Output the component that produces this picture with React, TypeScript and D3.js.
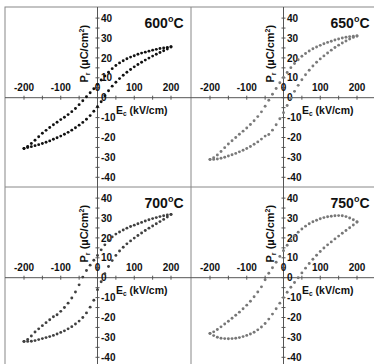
import React from 'react';
import * as d3 from 'd3';

// Electric field sample points (kV/cm)
const fieldValues = [
  -200, -190, -180, -170, -160, -150, -140, -130, -120, -110, -100, -90, -80, -70, -60, -50, -40, -30, -20, -10,
  0, 10, 20, 30, 40, 50, 60, 70, 80, 90, 100, 110, 120, 130, 140, 150, 160, 170, 180, 190, 200,
];

const xTickLabels = [-200, -100, 0, 100, 200];
const xMinorTicks = [-200, -150, -100, -50, 0, 50, 100, 150, 200];
const yTickLabels = [40, 30, 20, 10, 0, -10, -20, -30, -40];
const yMinorTicks = [40, 35, 30, 25, 20, 15, 10, 5, 0, -5, -10, -15, -20, -25, -30, -35, -40];
const temperatures = ['600', '650', '700', '750'];

// 600 °C : descending (upper) and ascending (lower) branches
const p600Upper = [
  -25.5, -24.5, -23.0, -21.4, -19.6, -17.9, -16.4, -15.0, -13.6, -12.3, -11.0, -9.8, -8.5, -7.0, -5.4, -3.5, -1.5, 0.5, 2.5, 4.5,
  6.7, 8.9, 10.9, 12.8, 14.6, 16.2, 17.5, 18.6, 19.6, 20.4, 21.1, 21.8, 22.4, 22.9, 23.4, 23.9, 24.3, 24.7, 25.0, 25.3, 25.6,
];
const p600Lower = [
  -25.5, -25.0, -24.6, -24.1, -23.6, -23.0, -22.4, -21.7, -20.9, -20.1, -19.3, -18.4, -17.4, -16.3, -15.1, -13.8, -12.4, -10.8, -9.0, -6.8,
  -4.5, -2.0, 1.0, 3.5, 5.8, 7.8, 9.6, 11.3, 12.8, 14.2, 15.5, 16.7, 17.8, 18.9, 19.9, 20.9, 21.8, 22.7, 23.6, 24.5, 25.5,
];

// 650 °C
const p650Upper = [
  -31.0, -30.2, -28.8, -27.0, -25.1, -23.3, -21.6, -20.0, -18.4, -16.8, -15.2, -13.5, -11.6, -9.5, -7.1, -4.3, -1.3, 1.7, 4.6, 7.5,
  10.2, 12.7, 15.1, 17.2, 19.1, 20.8, 22.2, 23.5, 24.6, 25.5, 26.3, 27.1, 27.8, 28.4, 29.0, 29.5, 30.0, 30.4, 30.7, 30.9, 31.0,
];
const p650Lower = [
  -31.0, -31.0, -30.8, -30.4, -29.9, -29.3, -28.7, -28.0, -27.2, -26.4, -25.5, -24.5, -23.4, -22.2, -20.8, -19.3, -18.5, -16.3, -13.6, -10.6,
  -7.5, -3.9, -0.2, 3.2, 6.2, 9.0, 11.5, 13.8, 15.9, 17.8, 19.5, 21.0, 22.5, 23.9, 25.2, 26.4, 27.5, 28.5, 29.5, 30.3, 31.0,
];

// 700 °C
const p700Upper = [
  -32.0, -31.0, -29.3, -27.3, -25.7, -24.1, -22.6, -21.1, -19.6, -18.6, -16.9, -15.0, -12.8, -10.2, -7.2, -3.6, 0.3, 3.6, 6.3, 8.8,
  11.2, 14.0, 16.5, 18.8, 20.5, 21.9, 23.0, 24.0, 24.9, 25.7, 26.4, 27.1, 27.8, 28.5, 29.1, 29.7, 30.2, 30.7, 31.1, 31.5, 31.8,
];
const p700Lower = [
  -32.0, -32.0, -31.9, -31.6, -31.1, -30.6, -30.1, -29.6, -29.0, -28.3, -27.5, -26.7, -25.7, -24.6, -23.3, -21.8, -20.0, -17.7, -14.8, -11.3,
  -6.0, -2.0, 2.0, 5.6, 8.6, 11.2, 13.4, 15.3, 17.0, 18.5, 19.9, 21.2, 22.5, 23.7, 24.9, 26.0, 27.1, 28.2, 29.3, 30.5, 31.8,
];

// 750 °C
const p750Upper = [
  -28.0, -27.2, -26.0, -24.7, -23.3, -21.9, -20.4, -18.9, -17.3, -15.6, -13.8, -11.8, -9.6, -7.2, -4.6, -1.0, 2.2, 5.0, 7.8, 10.7,
  13.6, 16.3, 18.8, 21.0, 22.9, 24.5, 25.9, 27.1, 28.1, 28.9, 29.6, 30.2, 30.6, 30.9, 31.1, 31.2, 31.1, 30.7, 30.0, 29.1, 28.0,
];
const p750Lower = [
  -28.0, -29.1, -29.9, -30.4, -30.6, -30.7, -30.6, -30.4, -30.1, -29.6, -29.0, -28.3, -27.4, -26.2, -24.8, -23.0, -20.8, -18.3, -15.6, -12.8,
  -10.0, -7.3, -4.8, -2.4, 0.0, 2.4, 4.8, 7.1, 9.3, 11.3, 13.2, 14.9, 16.5, 18.0, 19.5, 20.9, 22.3, 23.7, 25.1, 26.5, 28.0,
];

const FONT = "'Liberation Sans', Arial, Helvetica, sans-serif";

export default function App() {
  const W = 374;
  const H = 364;
  const left0 = 5;
  const top0 = 7;
  const panelW = 186;
  const panelH = 180;
  const axisColor = '#555';
  const frameColor = '#888';
  const textColor = '#111';

  const panels = [
    { t: temperatures[0], up: p600Upper, lo: p600Lower, color: '#111', col: 0, row: 0 },
    { t: temperatures[1], up: p650Upper, lo: p650Lower, color: '#7a7a7a', col: 1, row: 0 },
    { t: temperatures[2], up: p700Upper, lo: p700Lower, color: '#404040', col: 0, row: 1 },
    { t: temperatures[3], up: p750Upper, lo: p750Lower, color: '#777', col: 1, row: 1 },
  ];

  return (
    <svg
      width={W}
      height={H}
      viewBox={`0 0 ${W} ${H}`}
      style={{ position: 'absolute', left: 0, top: 0, background: '#fff' }}
    >
      <rect x={0} y={0} width={W} height={H} fill="#fff" />
      {/* outer frame and dividers */}
      <rect x={left0} y={top0} width={panelW * 2} height={panelH * 2} fill="none" stroke={frameColor} strokeWidth={1} />
      <line x1={left0 + panelW} x2={left0 + panelW} y1={top0} y2={top0 + panelH * 2} stroke={frameColor} strokeWidth={1} />
      <line x1={left0} x2={left0 + panelW * 2} y1={top0 + panelH} y2={top0 + panelH} stroke={frameColor} strokeWidth={1} />
      {panels.map((p, i) => {
        const ox = left0 + p.col * panelW;
        const oy = top0 + p.row * panelH;
        const x = d3.scaleLinear().domain([-200, 200]).range([ox + 19, ox + 166]);
        const y = d3.scaleLinear().domain([-40, 40]).range([oy + 170.3, oy + 11.1]);
        const x0 = x(0);
        const y0 = y(0);
        return (
          <g key={i} fontFamily={FONT} fontWeight="bold" fill={textColor}>
            {/* axes */}
            <line x1={ox} x2={ox + panelW} y1={y0} y2={y0} stroke={axisColor} strokeWidth={1} />
            <line x1={x0} x2={x0} y1={oy} y2={oy + panelH} stroke={axisColor} strokeWidth={1} />
            {xMinorTicks.map((v) => (
              <line key={'xt' + v} x1={x(v)} x2={x(v)} y1={y0 - 2} y2={y0 + 2} stroke={axisColor} strokeWidth={1} />
            ))}
            {yMinorTicks.map((v) => (
              <line key={'yt' + v} x1={x0 - 2} x2={x0 + 2} y1={y(v)} y2={y(v)} stroke={axisColor} strokeWidth={1} />
            ))}
            {xTickLabels.map((v) => (
              <text key={'xl' + v} x={x(v)} y={y0 - 6.5} fontSize={10} textAnchor="middle">
                {v}
              </text>
            ))}
            {yTickLabels.map((v) => (
              <text key={'yl' + v} x={x0 + 3.5} y={y(v) + 3.6} fontSize={10} textAnchor="start">
                {v}
              </text>
            ))}
            {/* axis titles */}
            <text x={x0 + 18.5} y={y0 + 16.5} fontSize={10.5}>
              E<tspan fontSize={6.5} dy={2}>c</tspan>
              <tspan dy={-2}> (kV/cm)</tspan>
            </text>
            <text transform={`translate(${x0 - 10},${oy + 75.5}) rotate(-90)`} fontSize={11}>
              P<tspan fontSize={7} dy={2.5}>r</tspan>
              <tspan dy={-2.5}> (µC/cm</tspan>
              <tspan fontSize={7} dy={-4}>2</tspan>
              <tspan dy={4}>)</tspan>
            </text>
            {/* title */}
            <text x={ox + 178.5} y={oy + 20.5} fontSize={14} textAnchor="end">
              {p.t}
              <tspan fontSize={9} dy={-6}>o</tspan>
              <tspan dy={6}>C</tspan>
            </text>
            {/* data */}
            {fieldValues.map((e, k) => (
              <circle key={'u' + k} cx={x(e)} cy={y(p.up[k])} r={1.45} fill={p.color} />
            ))}
            {fieldValues.map((e, k) => (
              <circle key={'l' + k} cx={x(e)} cy={y(p.lo[k])} r={1.45} fill={p.color} />
            ))}
          </g>
        );
      })}
    </svg>
  );
}
